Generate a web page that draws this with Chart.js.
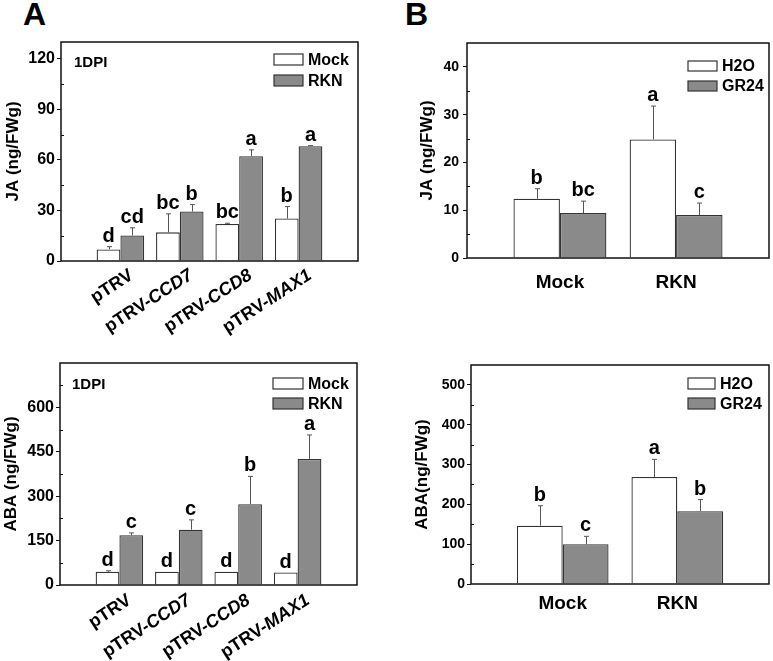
<!DOCTYPE html>
<html>
<head>
<meta charset="utf-8">
<script src="https://cdn.jsdelivr.net/npm/chart.js@4.4.0/dist/chart.umd.min.js"></script>
<style>
  body { margin: 0; background: #fff; width: 773px; height: 661px; position: relative; overflow: hidden; }
  canvas { position: absolute; }
  .tag { position: absolute; font: bold 32px "Liberation Sans", Arial, sans-serif; line-height: 1; color: #000; }
</style>
</head>
<body>
<div class="tag" style="left:23px;top:-2px">A</div>
<div class="tag" style="left:405px;top:-2px">B</div>
<canvas id="jaA" width="386" height="340" style="left:0;top:0"></canvas>
<canvas id="jaB" width="387" height="330" style="left:386px;top:0"></canvas>
<canvas id="abaA" width="386" height="331" style="left:0;top:330px"></canvas>
<canvas id="abaB" width="387" height="331" style="left:386px;top:330px"></canvas>
<script>
// Datos
const groupsA = ['pTRV', 'pTRV-CCD7', 'pTRV-CCD8', 'pTRV-MAX1'];
const groupsB = ['Mock', 'RKN'];
const seriesA = ['Mock', 'RKN'];
const seriesB = ['H2O', 'GR24'];

// A arriba: JA
const jaMockA = [6.9, 17, 22, 25.2];
const jaMockErrA = [1.6, 11, 0.4, 7.1];
const jaRknA = [15.2, 29.4, 62.2, 68.1];
const jaRknErrA = [4.5, 4.1, 3.8, 0.4];
const jaMockLetA = ['d', 'bc', 'bc', 'b'];
const jaRknLetA = ['cd', 'b', 'a', 'a'];
const jaTicksA = [0, 30, 60, 90, 120];
const jaMinorA = [15, 45, 75, 105];

// A abajo: ABA
const abaMockA = [45, 45, 45, 42];
const abaMockErrA = [3, 0, 0, 0];
const abaRknA = [168, 187, 273, 426];
const abaRknErrA = [8, 33, 94, 81];
const abaMockLetA = ['d', 'd', 'd', 'd'];
const abaRknLetA = ['c', 'c', 'b', 'a'];
const abaTicksA = [0, 150, 300, 450, 600];
const abaMinorA = [75, 225, 375, 525, 675];

// B arriba: JA
const jaH2oB = [12.4, 24.8];
const jaH2oErrB = [2.1, 7];
const jaGr24B = [9.4, 9.0];
const jaGr24ErrB = [2.5, 2.5];
const jaH2oLetB = ['b', 'a'];
const jaGr24LetB = ['bc', 'c'];
const jaTicksB = [0, 10, 20, 30, 40];
const jaMinorB = [5, 15, 25, 35];

// B abajo: ABA
const abaH2oB = [146.5, 269];
const abaH2oErrB = [50, 44];
const abaGr24B = [99.7, 183];
const abaGr24ErrB = [20, 29];
const abaH2oLetB = ['b', 'a'];
const abaGr24LetB = ['c', 'b'];
const abaTicksB = [0, 100, 200, 300, 400, 500];
const abaMinorB = [50, 150, 250, 350, 450];

const FONT = '"Liberation Sans", Arial, sans-serif';
const GRAY = '#8a8a8a';
const EDGE = '#333333';

// Marco completo alrededor del área del gráfico + ticks menores hacia dentro
const framePlugin = {
    id: 'frame',
    afterDraw(chart, args, opts) {
        const {ctx, chartArea: a} = chart;
        const y = chart.scales.y;
        ctx.save();
        ctx.strokeStyle = '#111';
        ctx.lineWidth = 1;
        (opts.minor || []).forEach(v => {
            const py = Math.round(y.getPixelForValue(v)) + 0.5;
            ctx.beginPath();
            ctx.moveTo(a.left, py);
            ctx.lineTo(a.left + 3, py);
            ctx.stroke();
        });
        ctx.lineWidth = 1.5;
        ctx.strokeRect(a.left, a.top, a.right - a.left, a.bottom - a.top);
        ctx.restore();
    }
};

// Barras de error (solo hacia arriba) y letras de significancia
const errorPlugin = {
    id: 'errors',
    afterDatasetsDraw(chart, args, opts) {
        const ctx = chart.ctx;
        const y = chart.scales.y;
        chart.data.datasets.forEach((ds, di) => {
            chart.getDatasetMeta(di).data.forEach((bar, i) => {
                const v = ds.data[i].y;
                const e = ds.errors[i];
                const top = y.getPixelForValue(v + e);
                const x = Math.round(bar.x) + 0.5;
                ctx.save();
                if (e > 0) {
                    ctx.strokeStyle = '#555';
                    ctx.lineWidth = 1;
                    ctx.beginPath();
                    ctx.moveTo(x, bar.y);
                    ctx.lineTo(x, top);
                    ctx.moveTo(x - 2.5, top);
                    ctx.lineTo(x + 2.5, top);
                    ctx.stroke();
                }
                ctx.fillStyle = '#000';
                ctx.font = 'bold ' + opts.size + 'px ' + FONT;
                ctx.textAlign = 'center';
                ctx.textBaseline = 'alphabetic';
                ctx.fillText(ds.letters[i], bar.x, Math.min(top, bar.y) - opts.gap);
                ctx.restore();
            });
        });
    }
};

// Leyenda dentro del gráfico
const boxLegend = {
    id: 'boxLegend',
    afterDraw(chart, args, opts) {
        const ctx = chart.ctx;
        ctx.save();
        chart.data.datasets.forEach((ds, i) => {
            const bx = opts.x;
            const by = opts.y + i * opts.gap;
            ctx.fillStyle = ds.backgroundColor;
            ctx.fillRect(bx, by, opts.w, opts.h);
            ctx.strokeStyle = EDGE;
            ctx.lineWidth = 1.2;
            ctx.strokeRect(bx, by, opts.w, opts.h);
            ctx.fillStyle = '#000';
            ctx.font = 'bold 16px ' + FONT;
            ctx.textAlign = 'left';
            ctx.textBaseline = 'middle';
            ctx.fillText(ds.label, bx + opts.w + 5, by + opts.h / 2 + 1);
        });
        if (opts.note) {
            ctx.font = 'bold 15px ' + FONT;
            ctx.textBaseline = 'middle';
            ctx.fillText(opts.note, opts.noteX, opts.noteY);
        }
        ctx.restore();
    }
};

// Etiquetas inclinadas con parte en cursiva (pTRV-<i>CCD7</i>)
const slantLabels = {
    id: 'slant',
    afterDraw(chart, args, opts) {
        if (!opts.labels) return;
        const ctx = chart.ctx;
        const x = chart.scales.x;
        const base = chart.chartArea.bottom;
        const f = opts.size + 'px ' + FONT;
        opts.labels.forEach((lab, i) => {
            const cut = lab.indexOf('-');
            const plain = cut < 0 ? lab : lab.slice(0, cut + 1);
            const ital = cut < 0 ? '' : lab.slice(cut + 1);
            ctx.save();
            ctx.font = 'bold ' + f;
            const w1 = ctx.measureText(plain).width;
            ctx.font = 'italic bold ' + f;
            const w2 = ctx.measureText(ital).width;
            ctx.translate(x.getPixelForValue(i + 1) + opts.dx, base + opts.dy);
            ctx.rotate(-opts.angle * Math.PI / 180);
            ctx.fillStyle = '#000';
            ctx.textBaseline = 'alphabetic';
            ctx.textAlign = 'left';
            ctx.font = 'bold ' + f;
            ctx.fillText(plain, -(w1 + w2), 0);
            ctx.font = 'italic bold ' + f;
            ctx.fillText(ital, -w2, 0);
            ctx.restore();
        });
    }
};

function panel(id, o) {
    const toPts = arr => arr.map((v, i) => ({x: i + 1, y: v}));
    return new Chart(document.getElementById(id), {
        type: 'bar',
        data: {
            datasets: [
                {label: o.series[0], data: toPts(o.vals[0]), errors: o.errs[0], letters: o.lets[0],
                 backgroundColor: '#ffffff', borderColor: EDGE, borderWidth: 1.3},
                {label: o.series[1], data: toPts(o.vals[1]), errors: o.errs[1], letters: o.lets[1],
                 backgroundColor: GRAY, borderColor: EDGE, borderWidth: 1.3}
            ]
        },
        options: {
            responsive: false,
            animation: false,
            datasets: {bar: {categoryPercentage: 0.8, barPercentage: 1, borderSkipped: 'start'}},
            layout: {padding: {top: o.top, right: o.right, left: 0, bottom: 0}},
            scales: {
                x: {
                    type: 'linear', offset: false, min: o.xMin, max: o.xMax,
                    afterBuildTicks: s => { s.ticks = o.groups.map((g, i) => ({value: i + 1})); },
                    ticks: {display: !o.slant, color: '#000', padding: o.xPad,
                            font: {family: FONT, size: 19, weight: 'bold'},
                            callback: v => o.groups[v - 1]},
                    grid: {display: false, drawTicks: false},
                    border: {display: false},
                    afterFit: s => { s.height = o.xHeight; }
                },
                y: {
                    min: 0, max: o.yMax,
                    afterBuildTicks: s => { s.ticks = o.ticks.map(v => ({value: v})); },
                    ticks: {color: '#000', padding: o.yPad, font: {family: FONT, size: o.tickSize, weight: 'bold'}},
                    grid: {drawOnChartArea: false, tickLength: 4, color: '#111'},
                    border: {display: false},
                    title: {display: true, text: o.yTitle, color: '#000', padding: {top: o.titlePad},
                            font: {family: FONT, size: 17, weight: 'bold'}},
                    afterFit: s => { s.width = o.yWidth; }
                }
            },
            plugins: {
                legend: {display: false},
                tooltip: {enabled: false},
                frame: {minor: o.minor},
                errors: {size: 20, gap: 5},
                boxLegend: o.legend,
                slant: o.slant || {}
            }
        },
        plugins: [framePlugin, errorPlugin, boxLegend, slantLabels]
    });
}

panel('jaA', {
    groups: groupsA, series: seriesA,
    vals: [jaMockA, jaRknA], errs: [jaMockErrA, jaRknErrA], lets: [jaMockLetA, jaRknLetA],
    ticks: jaTicksA, minor: jaMinorA, yMax: 130, xMin: 0, xMax: 5,
    top: 42, right: 28, yWidth: 61, xHeight: 79, xPad: 0, yPad: 2, tickSize: 16, titlePad: 3,
    yTitle: 'JA (ng/FWg)',
    legend: {x: 274, y: 54, gap: 21, w: 29, h: 11, note: '1DPI', noteX: 74, noteY: 63},
    slant: {labels: groupsA, dx: 14, dy: 17, angle: 33, size: 18}
});

panel('abaA', {
    groups: groupsA, series: seriesA,
    vals: [abaMockA, abaRknA], errs: [abaMockErrA, abaRknErrA], lets: [abaMockLetA, abaRknLetA],
    ticks: abaTicksA, minor: abaMinorA, yMax: 750, xMin: 0, xMax: 5,
    top: 33, right: 29, yWidth: 60, xHeight: 76, xPad: 0, yPad: 2, tickSize: 16, titlePad: 1,
    yTitle: 'ABA (ng/FWg)',
    legend: {x: 273, y: 48, gap: 20, w: 30, h: 11, note: '1DPI', noteX: 72, noteY: 55},
    slant: {labels: groupsA, dx: 13, dy: 18, angle: 33, size: 18}
});

panel('jaB', {
    groups: groupsB, series: seriesB,
    vals: [jaH2oB, jaGr24B], errs: [jaH2oErrB, jaGr24ErrB], lets: [jaH2oLetB, jaGr24LetB],
    ticks: jaTicksB, minor: jaMinorB, yMax: 45, xMin: 0.2, xMax: 2.8,
    top: 43, right: 4, yWidth: 81, xHeight: 72, xPad: 13, yPad: 4, tickSize: 14, titlePad: 31,
    yTitle: 'JA (ng/FWg)',
    legend: {x: 302, y: 61, gap: 20, w: 29, h: 10}
});

panel('abaB', {
    groups: groupsB, series: seriesB,
    vals: [abaH2oB, abaGr24B], errs: [abaH2oErrB, abaGr24ErrB], lets: [abaH2oLetB, abaGr24LetB],
    ticks: abaTicksB, minor: abaMinorB, yMax: 550, xMin: 0.2, xMax: 2.8,
    top: 35, right: 4, yWidth: 85, xHeight: 77, xPad: 8, yPad: 2, tickSize: 14, titlePad: 26,
    yTitle: 'ABA(ng/FWg)',
    legend: {x: 302, y: 48, gap: 20, w: 27, h: 11}
});
</script>
</body>
</html>
